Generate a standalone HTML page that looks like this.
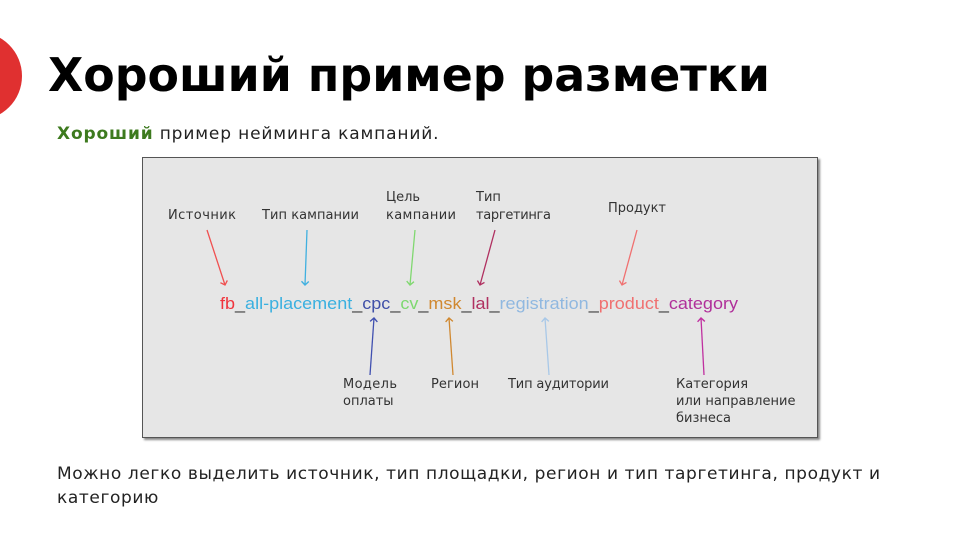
<!DOCTYPE html>
<html><head><meta charset="utf-8"><style>
body{margin:0;width:960px;height:540px;background:#fff;overflow:hidden;position:relative;font-family:"DejaVu Sans","Liberation Sans",sans-serif}
.c{position:absolute;left:-66px;top:32px;width:88px;height:88px;border-radius:50%;background:#e03030}
h1{position:absolute;left:48px;top:48px;margin:0;font:bold 46px "DejaVu Sans",sans-serif;color:#000;white-space:nowrap;transform-origin:0 0}
.sub{position:absolute;left:57px;top:124px;font-size:17px;color:#222;white-space:nowrap;letter-spacing:0.85px}
.sub b{color:#3d7a1e}
.box{position:absolute;left:142px;top:157px;width:674px;height:279px;background:#e6e6e6;border:1.5px solid #555;box-shadow:2px 2px 2px #888}
.bot{position:absolute;left:57px;top:462px;font-size:17px;color:#222;line-height:24px;letter-spacing:0.6px;white-space:nowrap}
</style></head><body>
<div class="c"></div>
<h1 id="t">Хороший пример разметки</h1>
<div class="sub"><b>Хороший</b> пример нейминга кампаний.</div>
<div class="box"></div>
<svg style="position:absolute;left:0;top:0" width="960" height="540" font-family="DejaVu Sans, sans-serif">
<defs>
<marker id="m" viewBox="0 0 10 10" refX="5" refY="5" markerWidth="7" markerHeight="7" orient="auto-start-reverse"><path d="M1,1 L5,5 L1,9" fill="none" stroke="context-stroke" stroke-width="1.5"/></marker>
</defs>
<g font-size="13" fill="#333">
<text x="168" y="219" textLength="68">Источник</text>
<text x="262" y="219" textLength="97">Тип кампании</text>
<text x="386" y="201">Цель</text><text x="386" y="219" textLength="70">кампании</text>
<text x="476" y="201">Тип</text><text x="476" y="219" textLength="75">таргетинга</text>
<text x="608" y="212" textLength="58">Продукт</text>
<text x="343" y="388" textLength="54">Модель</text><text x="343" y="405">оплаты</text>
<text x="431" y="388" textLength="48">Регион</text>
<text x="508" y="388" textLength="101">Тип аудитории</text>
<text x="676" y="388">Категория</text><text x="676" y="405">или направление</text><text x="676" y="422">бизнеса</text>
</g>
<g stroke-width="1.3" fill="none">
<line x1="207" y1="230" x2="225" y2="285" stroke="#f05050" marker-end="url(#m)"/>
<line x1="307" y1="230" x2="305" y2="285" stroke="#40b0e0" marker-end="url(#m)"/>
<line x1="415" y1="230" x2="410" y2="285" stroke="#80d870" marker-end="url(#m)"/>
<line x1="495" y1="230" x2="480" y2="285" stroke="#b03060" marker-end="url(#m)"/>
<line x1="637" y1="230" x2="622" y2="285" stroke="#f07070" marker-end="url(#m)"/>
<line x1="370" y1="375" x2="374" y2="318" stroke="#4050b0" marker-end="url(#m)"/>
<line x1="453" y1="375" x2="449" y2="318" stroke="#d08830" marker-end="url(#m)"/>
<line x1="549" y1="375" x2="545" y2="318" stroke="#a8c8e8" marker-end="url(#m)"/>
<line x1="704" y1="375" x2="701" y2="318" stroke="#c030a0" marker-end="url(#m)"/>
</g>
<text x="220" y="309" font-family="Liberation Sans, sans-serif" font-size="17" textLength="518" lengthAdjust="spacingAndGlyphs" fill="#333"><tspan fill="#f0343c">fb</tspan>_<tspan fill="#3ab0e0">all-placement</tspan>_<tspan fill="#4050a8">cpc</tspan>_<tspan fill="#7ed870">cv</tspan>_<tspan fill="#d08830">msk</tspan>_<tspan fill="#b03060">lal</tspan>_<tspan fill="#90b8e0">registration</tspan>_<tspan fill="#f07070">product</tspan>_<tspan fill="#b0309a">category</tspan></text>
</svg>
<div class="bot" id="b">Можно легко выделить источник, тип площадки, регион и тип таргетинга, продукт и<br>категорию</div>
<script>
function fit(id,w){var e=document.getElementById(id);var r=e.getBoundingClientRect().width;if(r>0)e.style.transform='scaleX('+(w/r)+')';e.style.transformOrigin='0 0';}
fit('t',722);
</script>
</body></html>
